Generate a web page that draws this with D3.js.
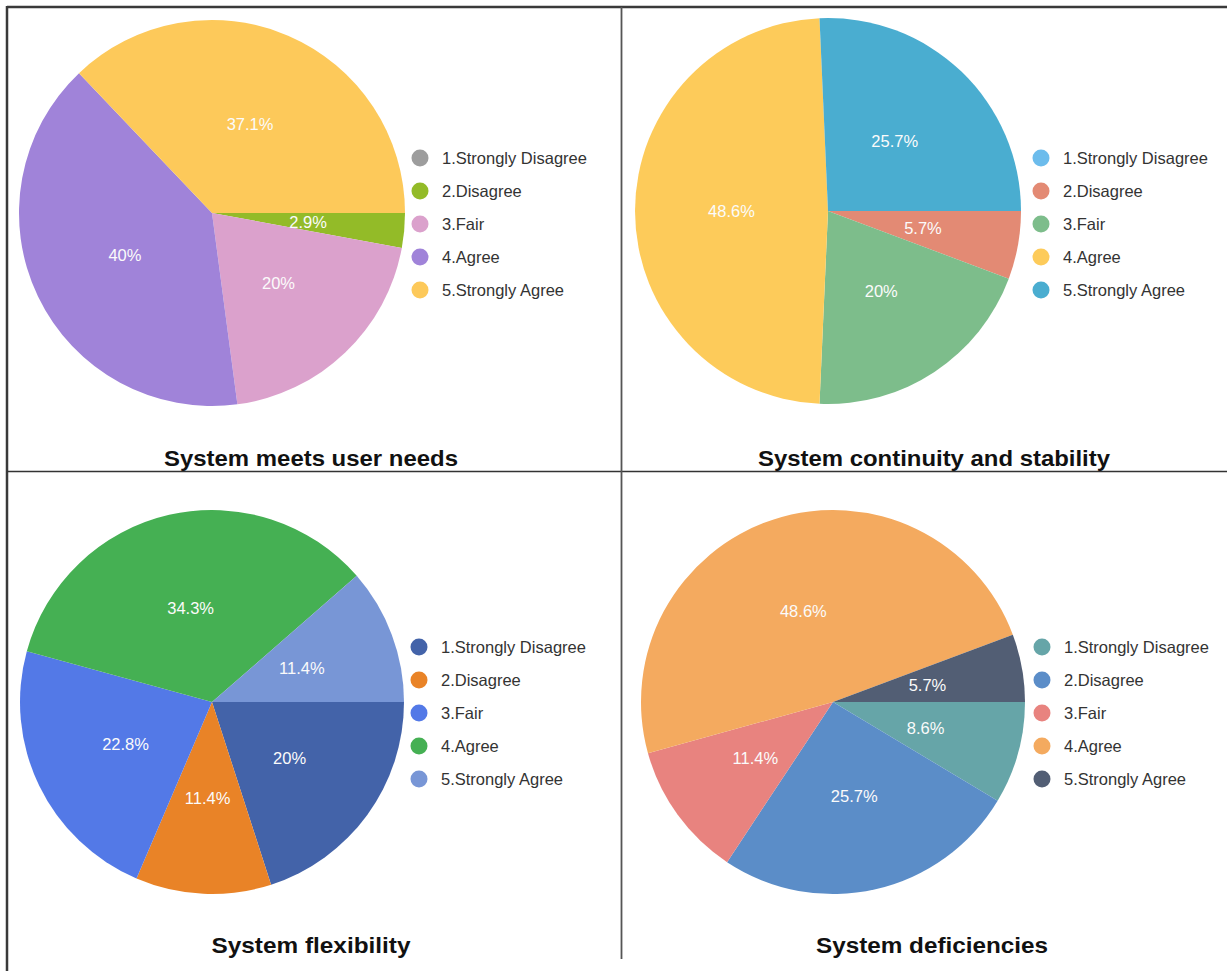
<!DOCTYPE html>
<html>
<head>
<meta charset="utf-8">
<script src="https://cdn.jsdelivr.net/npm/d3@7"></script>
<style>
  html, body { margin: 0; padding: 0; background: #fff; }
  svg { display: block; font-family: "Liberation Sans", Arial, sans-serif; }
</style>
</head>
<body>
<svg id="chart" width="1227" height="971"></svg>
<script>
// ---- data ----
const categories = ["1.Strongly Disagree", "2.Disagree", "3.Fair", "4.Agree", "5.Strongly Agree"];
const titles = ["System meets user needs", "System continuity and stability", "System flexibility", "System deficiencies"];
const valuesNeeds = [0, 2.9, 20, 40, 37.1];
const valuesStability = [0, 5.7, 20, 48.6, 25.7];
const valuesFlexibility = [20, 11.4, 22.8, 34.3, 11.4];
const valuesDeficiencies = [8.6, 25.7, 11.4, 48.6, 5.7];
const colorsNeeds = ["#9d9d9d", "#93bb28", "#dba1cc", "#a083d9", "#fdc95a"];
const colorsStability = ["#6cbcec", "#e38a74", "#7dbd8b", "#fdcb5a", "#4aadd0"];
const colorsFlexibility = ["#4363a9", "#e98327", "#5379e7", "#45b053", "#7896d6"];
const colorsDeficiencies = ["#66a5a8", "#5b8dc8", "#e8837f", "#f4aa5f", "#525e74"];

// ---- layout (styles / positions) ----
const panels = [
  { title: titles[0], values: valuesNeeds, colors: colorsNeeds, cx: 212, cy: 213, r: 193, lx: 420, ly: 158, tx: 311, ty: 466, tw: 294 },
  { title: titles[1], values: valuesStability, colors: colorsStability, cx: 828, cy: 211, r: 193, lx: 1041, ly: 158, tx: 934, ty: 466, tw: 352 },
  { title: titles[2], values: valuesFlexibility, colors: colorsFlexibility, cx: 212, cy: 702, r: 192, lx: 419, ly: 647, tx: 311, ty: 953, tw: 199 },
  { title: titles[3], values: valuesDeficiencies, colors: colorsDeficiencies, cx: 833, cy: 702, r: 192, lx: 1042, ly: 647, tx: 932, ty: 953, tw: 232 }
];

const svg = d3.select("#chart");

// borders
const borders = svg.append("g").attr("fill", "none");
borders.append("line").attr("x1", 7).attr("y1", 7).attr("x2", 1227).attr("y2", 7).attr("stroke", "#3a3a3a").attr("stroke-width", 2.5);
borders.append("line").attr("x1", 7).attr("y1", 6).attr("x2", 7).attr("y2", 971).attr("stroke", "#3a3a3a").attr("stroke-width", 2.5);
borders.append("line").attr("x1", 7).attr("y1", 471.5).attr("x2", 1227).attr("y2", 471.5).attr("stroke", "#333").attr("stroke-width", 1.6);
borders.append("line").attr("x1", 621.5).attr("y1", 7).attr("x2", 621.5).attr("y2", 959).attr("stroke", "#555").attr("stroke-width", 1.8);

const pie = d3.pie().sort(null).value(d => d).startAngle(Math.PI / 2).endAngle(Math.PI / 2 + 2 * Math.PI);
const fmt = v => (Math.round(v * 10) / 10) + "%";

panels.forEach(p => {
  const g = svg.append("g").attr("transform", `translate(${p.cx},${p.cy})`);
  const arcs = pie(p.values);
  const arc = d3.arc().innerRadius(0).outerRadius(p.r);
  const labelArc = d3.arc().innerRadius(p.r * 0.5).outerRadius(p.r * 0.5);
  const color = d3.scaleOrdinal().domain(categories).range(p.colors);

  g.selectAll("path.slice")
    .data(arcs)
    .join("path")
    .attr("class", "slice")
    .attr("d", arc)
    .attr("fill", (d, i) => color(categories[i]));

  g.selectAll("text.lbl")
    .data(arcs.filter(d => d.value > 0))
    .join("text")
    .attr("class", "lbl")
    .attr("transform", d => `translate(${labelArc.centroid(d)})`)
    .attr("text-anchor", "middle")
    .attr("dy", "0.36em")
    .attr("fill", "#fbfbfb")
    .attr("font-size", 16.5)
    .text(d => fmt(d.value));

  // legend
  const legendY = d3.scalePoint().domain(categories).range([p.ly, p.ly + 132]);
  const lg = svg.append("g");
  const items = lg.selectAll("g.item").data(categories).join("g")
    .attr("class", "item")
    .attr("transform", d => `translate(${p.lx},${legendY(d)})`);
  items.append("circle").attr("r", 8.5).attr("fill", d => color(d));
  items.append("text")
    .attr("x", 22)
    .attr("dy", "0.36em")
    .attr("font-size", 16.5)
    .attr("fill", "#333")
    .text(d => d);

  // title
  svg.append("text")
    .attr("x", p.tx)
    .attr("y", p.ty)
    .attr("text-anchor", "middle")
    .attr("font-size", 21.5)
    .attr("font-weight", "bold")
    .attr("fill", "#111")
    .attr("textLength", p.tw)
    .attr("lengthAdjust", "spacingAndGlyphs")
    .text(p.title);
});
</script>
</body>
</html>
